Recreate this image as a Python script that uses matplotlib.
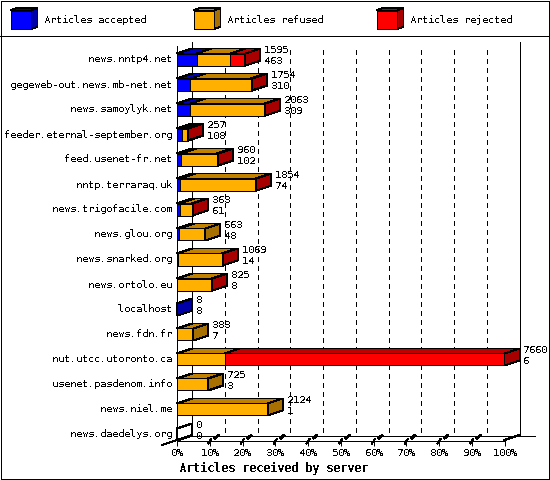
import matplotlib
matplotlib.use("Agg")
import matplotlib.pyplot as plt
from matplotlib.transforms import ScaledTranslation

plt.rcParams['font.family'] = ['DejaVu Sans Mono']
plt.rcParams['text.antialiased'] = False
plt.rcParams['text.hinting'] = 'native'
plt.rcParams['text.hinting_factor'] = 1
plt.rcParams['lines.antialiased'] = False
plt.rcParams['patch.antialiased'] = False

# data
servers = ['news.nntp4.net', 'gegeweb-out.news.mb-net.net', 'news.samoylyk.net',
           'feeder.eternal-september.org', 'feed.usenet-fr.net', 'nntp.terraraq.uk',
           'news.trigofacile.com', 'news.glou.org', 'news.snarked.org', 'news.ortolo.eu',
           'localhost', 'news.fdn.fr', 'nut.utcc.utoronto.ca', 'usenet.pasdenom.info',
           'news.niel.me', 'news.daedelys.org']
accepted = [463, 310, 309, 108, 102, 74, 61, 48, 14, 8, 8, 7, 6, 3, 1, 0]
refused = [786, 1420, 1734, 119, 828, 1760, 280, 615, 1035, 797, 0, 376, 1110, 722, 2123, 0]
rejected = [346, 24, 20, 30, 30, 20, 22, 0, 20, 20, 0, 0, 6544, 0, 0, 0]
series_names = ['Articles accepted', 'Articles refused', 'Articles rejected']
pct_ticks = [0, 10, 20, 30, 40, 50, 60, 70, 80, 90, 100]

front = ['#0000ff', '#ffb000', '#ff0000']
top = ['#0000c0', '#c08000', '#c00000']
side = ['#0000a8', '#a87000', '#a80000']
thin = 0.72
fs = 7.2

fig = plt.figure(figsize=(5.5, 4.8), dpi=100, facecolor='white')

# background layer in pixels: frame, legend, back walls
bg = fig.add_axes([0, 0, 1, 1])
bg.set_xlim(0, 550)
bg.set_ylim(480, 0)
bg.axis('off')

bg.plot([0.5, 548.5, 548.5, 0.5, 0.5], [0.5, 0.5, 478.5, 478.5, 0.5], color='black', lw=thin)
bg.plot([0, 549], [35.5, 35.5], color='black', lw=thin)

for i, name in enumerate(series_names):
    x = 10.5 + 183 * i
    bg.fill([x, x + 21, x + 21, x], [10.5, 10.5, 29, 29], fc=front[i], ec='black', lw=thin)
    bg.fill([x, x + 6, x + 27, x + 21], [10.5, 8, 8, 10.5], fc=top[i], ec='black', lw=thin)
    bg.fill([x + 21, x + 27, x + 27, x + 21], [10.5, 8, 26.5, 29], fc=side[i], ec='black', lw=thin)
    bg.text(x + 33.5, 20, name, fontsize=fs, va='center', ha='left')

# walls and floor
bg.plot([192, 192], [42, 435], color='black', lw=thin)
bg.plot([519.5, 519.5], [42, 435], color='black', lw=thin)
bg.plot([192, 535], [435.5, 435.5], color='black', lw=thin)
bg.plot([162, 192], [445, 435], color='black', lw=thin)
bg.plot([504.5, 519.5], [440, 435], color='black', lw=thin)
for k in range(1, 10):
    xb = 192 + 32.75 * k
    bg.plot([xb, xb], [50, 435], color='black', lw=thin, dashes=(5, 5))
    xf = 177 + 32.75 * k
    bg.plot([xf - 1.5, xf + 1.5], [443.5, 439], color='black', lw=thin)
    bg.plot([xf + 5.5, xf + 8.5], [438, 435.5], color='black', lw=1.4)

# front plane, scaled in articles
ax = fig.add_axes([177 / 550, 1 - 440.5 / 480, 327.5 / 550, 394.5 / 480])
ax.patch.set_visible(False)
xmax = 7660
ax.set_xlim(0, xmax)
ax.set_ylim(15.24, -0.54)
dx = 15 / 327.5 * xmax
dy = 5 / 25
h = 12 / 25

for i in range(len(servers)):
    vals = [accepted[i], refused[i], rejected[i]]
    left = 0
    last = 0
    for j, v in enumerate(vals):
        if v > 0:
            last = j
            ax.barh(i, v, height=h, left=left, color=front[j], edgecolor='black', lw=thin, zorder=3)
            ax.fill([left, left + dx, left + v + dx, left + v],
                    [i - h / 2, i - h / 2 - dy, i - h / 2 - dy, i - h / 2],
                    fc=top[j], ec='black', lw=thin, zorder=3, clip_on=False)
            left += v
    # right side of the box takes the colour of the last segment
    side_col = side[last] if sum(vals) > 0 else 'none'
    ax.fill([left, left + dx, left + dx, left],
            [i - h / 2, i - h / 2 - dy, i + h / 2 - dy, i + h / 2],
            fc=side_col, ec='black', lw=thin, zorder=3, clip_on=False)
    ax.text(left + dx + 4 / 327.5 * xmax, i - 0.38, str(sum(vals)), fontsize=fs,
            va='center', ha='left', clip_on=False, zorder=4)
    ax.text(left + dx + 4 / 327.5 * xmax, i + 0.06, str(accepted[i]), fontsize=fs,
            va='center', ha='left', clip_on=False, zorder=4)

ax.set_yticks(range(len(servers)))
ax.set_yticklabels(servers, fontsize=fs)
ax.tick_params(axis='y', length=0, pad=3.5)
# server names sit 1px higher than the bar centre
for lab in ax.get_yticklabels():
    lab.set_transform(lab.get_transform() + ScaledTranslation(0, 0.01, fig.dpi_scale_trans))
ax.set_xticks([p / 100 * xmax for p in pct_ticks])
ax.set_xticklabels([f'{p}%' for p in pct_ticks], fontsize=fs)
ax.tick_params(axis='x', length=3.5, width=thin, pad=2)
for s in ['top', 'right']:
    ax.spines[s].set_visible(False)
for s in ['left', 'bottom']:
    ax.spines[s].set_linewidth(thin)
ax.set_xlabel('Articles received by server', fontsize=8.4, fontweight='bold', labelpad=1)
ax.xaxis.set_label_coords((273.5 - 177) / 327.5, -0.055)

fig.savefig('out.png', dpi=100)
